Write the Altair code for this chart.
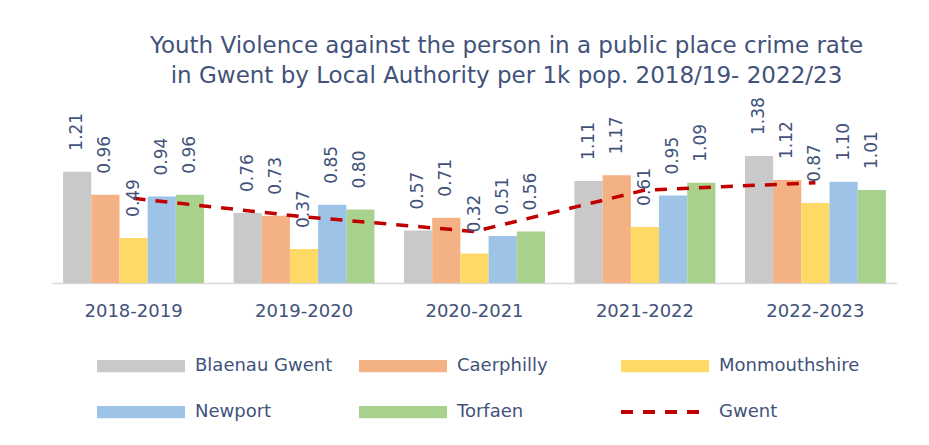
import altair as alt
import pandas as pd

years = ["2018-2019", "2019-2020", "2020-2021", "2021-2022", "2022-2023"]
areas = ["Blaenau Gwent", "Caerphilly", "Monmouthshire", "Newport", "Torfaen"]
blaenau = [1.21, 0.76, 0.57, 1.11, 1.38]
caerphilly = [0.96, 0.73, 0.71, 1.17, 1.12]
monmouth = [0.49, 0.37, 0.32, 0.61, 0.87]
newport = [0.94, 0.85, 0.51, 0.95, 1.10]
torfaen = [0.96, 0.80, 0.56, 1.09, 1.01]
gwent = [0.92, 0.72, 0.56, 1.01, 1.09]

bar_colors = ["#C9C9C9", "#F4B183", "#FFD966", "#9DC3E6", "#A9D18E"]
line_color = "#C00000"
text_color = "#42527A"
FONT = "DejaVu Sans"

series = [blaenau, caerphilly, monmouth, newport, torfaen]
rows = []
for a, vals in zip(areas, series):
    for y, v in zip(years, vals):
        rows.append({"Year": y, "Area": a, "Value": v})
bars_df = pd.DataFrame(rows)
line_df = pd.DataFrame({"Year": years, "Series": ["Gwent"] * len(years), "Value": gwent})

RECT = "M-1,-0.14L1,-0.14L1,0.14L-1,0.14Z"

bar_legend = alt.Legend(
    title=None, orient="none", legendX=45, legendY=261, columns=3, direction="horizontal",
    symbolType=RECT, symbolSize=7744, clipHeight=12,
    labelFont=FONT, labelFontSize=18, labelColor=text_color, labelOffset=10,
    columnPadding=23, rowPadding=28, gridAlign="all", symbolStrokeWidth=0,
    symbolOpacity=1,
)
line_legend = alt.Legend(
    title=None, orient="none", legendX=567, legendY=307,
    symbolType="stroke", symbolSize=7744, clipHeight=12,
    symbolStrokeColor=line_color, symbolStrokeWidth=4, symbolDash=[12, 10],
    labelFont=FONT, labelFontSize=18, labelColor=text_color, labelOffset=8,
)

x_enc = alt.X("Year:N", sort=years,
              scale=alt.Scale(paddingInner=0.173, paddingOuter=0.065),
              axis=alt.Axis(title=None, labelFont=FONT, labelFontSize=18, labelColor=text_color,
                            domainColor="#D9D9D9", domainWidth=1.5, ticks=False,
                            labelPadding=19, labelAngle=0))
y_enc = alt.Y("Value:Q", scale=alt.Scale(domain=[0, 2]), axis=None)
xoff = alt.XOffset("Area:N", sort=areas, scale=alt.Scale(domain=areas, paddingInner=0, paddingOuter=0))

bars = alt.Chart(bars_df).mark_bar().encode(
    x=x_enc, y=y_enc, xOffset=xoff,
    color=alt.Color("Area:N", scale=alt.Scale(domain=areas, range=bar_colors), legend=bar_legend),
)

labels = alt.Chart(bars_df).mark_text(
    angle=270, align="left", baseline="middle", dx=21, font=FONT, fontSize=17, color=text_color
).encode(
    x=x_enc, y=y_enc, xOffset=xoff,
    text=alt.Text("Value:Q", format=".2f"),
)

line = alt.Chart(line_df).mark_line(color=line_color, strokeWidth=3.5).encode(
    x=x_enc, y=y_enc,
    strokeDash=alt.StrokeDash("Series:N", scale=alt.Scale(domain=["Gwent"], range=[[12, 10]]),
                              legend=line_legend),
)

chart = alt.layer(bars, line, labels).properties(
    width=845, height=184,
    title=alt.TitleParams(
        text=["Youth Violence against the person in a public place crime rate",
              "in Gwent by Local Authority per 1k pop. 2018/19- 2022/23"],
        font=FONT, fontSize=23, fontWeight="normal", color=text_color,
        lineHeight=30, anchor="middle", dx=32, dy=-5,
    ),
    autosize=alt.AutoSizeParams(type="none"),
    padding={"left": 44, "top": 91, "right": 24, "bottom": 154},
).configure_view(stroke=None)

chart.save("out.html", embed_options={"renderer": "svg", "actions": False})
